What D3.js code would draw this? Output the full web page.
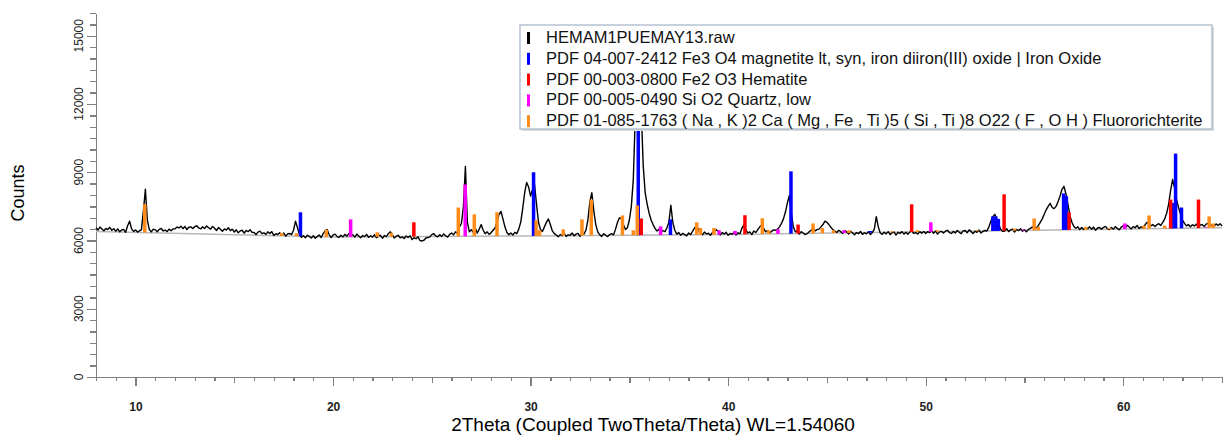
<!DOCTYPE html>
<html>
<head>
<meta charset="utf-8">
<title>XRD pattern</title>
<script src="https://cdn.jsdelivr.net/npm/d3@7"></script>
<style>
  body{margin:0;background:#fff;}
  svg{display:block;font-family:"Liberation Sans",Arial,sans-serif;}
  .axis path,.axis line{stroke:#808080;stroke-width:1.3;fill:none;shape-rendering:crispEdges;}
  .axis text{font-size:12px;fill:#222;}
</style>
</head>
<body>
<script>
// measured scan: start angle, step (2Theta, degrees) and counts
var scanStart = 8.0;
var scanStep = 0.1;
var scanCounts = [
  6560,6460,6590,6510,6430,6530,6480,6580,6450,6520, // 8
  6410,6510,6380,6460,6490,6360,6650,6850,6510,6400, // 9
  6460,6370,6420,6480,7300,8250,6900,6480,6380,6500, // 10
  6470,6380,6490,6530,6420,6460,6390,6500,6430,6510, // 11
  6510,6590,6550,6630,6520,6620,6480,6580,6600,6530, // 12
  6610,6650,6550,6510,6600,6530,6640,6560,6500,6620, // 13
  6540,6440,6570,6490,6410,6510,6460,6560,6430,6500, // 14
  6370,6470,6340,6420,6450,6320,6440,6390,6470,6360, // 15
  6350,6260,6370,6410,6300,6340,6270,6380,6310,6390, // 16
  6220,6300,6260,6340,6230,6330,6190,6290,6310,6260, // 17
  6450,6850,6560,6250,6140,6210,6120,6230,6180,6110, // 18
  6210,6100,6180,6240,6130,6300,6420,6480,6260,6130, // 19
  6240,6280,6180,6140,6230,6160,6270,6190,6300,6250, // 20
  6250,6150,6280,6200,6120,6220,6170,6270,6140,6210, // 21
  6150,6250,6120,6200,6230,6100,6220,6170,6300,6380, // 22
  6260,6110,6190,6230,6120,6160,6090,6200,6130,6210, // 23
  6040,6120,6080,6160,6000,5980,6010,6110,6130,6160, // 24
  6260,6300,6200,6160,6250,6180,6290,6210,6150,6270, // 25
  6330,6250,6380,6320,6600,6750,7500,9250,6800,6380, // 26
  6470,6360,6550,6320,6500,6700,6450,6300,6380,6270, // 27
  6340,6450,6550,6800,7150,7280,6950,6600,6350,6250, // 28
  6330,6240,6360,6300,6500,6800,7400,8100,8550,8350, // 29
  7950,8250,8450,7600,6800,6480,6400,6600,6800,6950, // 30
  6700,6420,6300,6240,6160,6260,6210,6310,6180,6250, // 31
  6230,6330,6200,6280,6310,6180,6300,6280,6450,6900, // 32
  7700,8100,7300,6700,6380,6250,6180,6300,6230,6170, // 33
  6260,6300,6250,6500,6800,7000,6950,6700,6480,6560, // 34
  6900,7500,8700,11500,14200,14800,11800,9300,8100,7600, // 35
  7200,6900,6700,6530,6420,6490,6360,6440,6390,6550, // 36
  6800,7550,6800,6450,6280,6350,6230,6310,6260,6200, // 37
  6330,6260,6400,6550,6650,6480,6330,6250,6370,6290, // 38
  6320,6230,6340,6420,6470,6400,6240,6350,6280,6360, // 39
  6230,6310,6270,6350,6240,6340,6300,6550,6680,6460, // 40
  6330,6380,6260,6420,6350,6480,6600,6680,6530,6380, // 41
  6430,6330,6400,6470,6450,6500,6600,6750,6950,7250, // 42
  7650,7980,7200,6600,6380,6420,6280,6390,6330,6260, // 43
  6300,6380,6450,6550,6420,6480,6500,6600,6700,6850, // 44
  6800,6700,6580,6480,6420,6350,6450,6390,6310,6430, // 45
  6380,6280,6410,6330,6250,6350,6300,6400,6270,6340, // 46
  6290,6390,6260,6350,6500,7050,6600,6330,6270,6360, // 47
  6290,6390,6260,6340,6370,6240,6360,6310,6390,6280, // 48
  6360,6270,6380,6420,6310,6350,6280,6390,6320,6400, // 49
  6310,6390,6350,6430,6320,6420,6280,6380,6400,6330, // 50
  6410,6450,6350,6310,6400,6330,6440,6360,6300,6420, // 51
  6440,6340,6470,6390,6310,6410,6360,6460,6330,6400, // 52
  6440,6420,6600,6850,7050,7150,6950,6700,6480,6400, // 53
  6420,6520,6390,6470,6500,6370,6490,6440,6520,6410, // 54
  6470,6380,6490,6530,6600,6520,6560,6650,6800,6950, // 55
  7150,7350,7500,7630,7450,7400,7500,7700,7950,8250, // 56
  8380,8050,7600,7100,6800,6620,6540,6600,6480,6570, // 57
  6480,6560,6520,6600,6490,6590,6450,6550,6570,6500, // 58
  6580,6620,6520,6480,6570,6500,6610,6530,6470,6590, // 59
  6640,6540,6670,6590,6510,6610,6560,6660,6530,6600, // 60
  6560,6680,6800,6750,6640,6700,6610,6690,6740,6660, // 61
  6800,6950,7200,7600,8200,8680,8300,7800,7450,7150, // 62
  6900,6750,6640,6700,6600,6690,6640,6720,6610,6680, // 63
  6700,6610,6720,6760,6650,6690,6620,6730,6660,6740, // 64
  6640
];

// fitted background line
var bgTheta  = [8, 20, 30, 40, 50, 65];
var bgCounts = [6400, 6150, 6200, 6260, 6380, 6560];

// reference patterns (stick positions and heights)
var magTheta = [18.35, 30.15, 35.45, 37.08, 43.18, 47.2, 53.4, 53.55, 53.68, 56.98, 57.12, 62.48, 62.65, 62.95];
var magTop   = [7240, 9000, 15000, 6930, 9040, 6420, 7060, 7060, 6950, 8070, 7950, 7650, 9820, 7450];
var hemTheta = [24.09, 35.6, 40.85, 43.54, 49.29, 53.97, 57.26, 62.4, 63.81];
var hemTop   = [6800, 6970, 7110, 6700, 7590, 8030, 7240, 7800, 7800];
var qtzTheta = [20.89, 26.69, 36.58, 39.54, 40.35, 42.52, 45.87, 50.26, 54.96, 60.08, 64.2];
var qtzTop   = [6930, 8460, 6620, 6450, 6420, 6500, 6450, 6800, 6480, 6750, 6580];
var frtTheta = [10.47, 17.4, 18.15, 19.66, 22.24, 22.95, 26.34, 27.15, 28.3, 30.28, 30.45, 31.65, 32.6, 33.07, 34.65, 35.2, 35.4, 38.41, 38.6, 39.28,
                41.73, 42.05, 44.3, 44.77, 45.34, 46.12, 48.3, 49.58, 50.6, 52.6, 54.5, 55.49, 55.7, 58.1, 59.3, 61.05, 61.31, 62.1, 64.35, 64.55];
var frtTop   = [7590, 6330, 6320, 6470, 6360, 6340, 7450, 7150, 7240, 6890, 6450, 6490, 6930, 7800, 7100, 6450, 7540, 6800, 6550, 6550,
                6980, 6450, 6750, 6550, 6450, 6450, 6400, 6450, 6450, 6450, 6520, 6970, 6600, 6600, 6550, 6650, 7100, 6650, 7060, 6750];

var legendNames = [
  "HEMAM1PUEMAY13.raw",
  "PDF 04-007-2412 Fe3 O4 magnetite lt, syn, iron diiron(III) oxide | Iron Oxide",
  "PDF 00-003-0800 Fe2 O3 Hematite",
  "PDF 00-005-0490 Si O2 Quartz, low",
  "PDF 01-085-1763 ( Na , K )2 Ca ( Mg , Fe , Ti )5 ( Si , Ti )8 O22 ( F , O H ) Fluororichterite"
];
var yTickLabels = [0, 3000, 6000, 9000, 12000, 15000];
var xTickLabels = [10, 20, 30, 40, 50, 60];

var colors = ["#000000", "#0000ff", "#ff0000", "#ff00ff", "#ff8c1a"];

var width = 1223, height = 437;
var svg = d3.select("body").append("svg")
  .attr("width", width)
  .attr("height", height);

var x = d3.scaleLinear().domain([8, 65]).range([96, 1222]);
var y = d3.scaleLinear().domain([0, 16000]).range([377, 13]);
var bg = d3.scaleLinear().domain(bgTheta).range(bgCounts);

// y axis
var yAxis = d3.axisLeft(y)
  .tickValues(d3.range(0, 16001, 500))
  .tickSizeOuter(0)
  .tickFormat("");
var gy = svg.append("g").attr("class", "axis")
  .attr("transform", "translate(96,0)")
  .call(yAxis);
gy.selectAll(".tick line").attr("x2", function(d){ return d % 3000 === 0 ? -9 : -6; });
gy.selectAll(".ylab").data(yTickLabels).enter().append("text")
  .attr("class", "ylab")
  .attr("transform", function(d){ return "translate(-13," + y(d) + ") rotate(-90)"; })
  .attr("text-anchor", "middle")
  .text(function(d){ return d; });

// x axis
var xAxis = d3.axisBottom(x)
  .tickValues(d3.range(8, 66, 1))
  .tickSizeOuter(0)
  .tickFormat(function(d){ return xTickLabels.indexOf(d) >= 0 ? d : ""; });
var gx = svg.append("g").attr("class", "axis")
  .attr("transform", "translate(0," + y(0) + ")")
  .call(xAxis);
gx.selectAll(".tick line").attr("y2", function(d){ return d % 10 === 0 ? 9 : (d % 5 === 0 ? 6 : 4); });
gx.selectAll(".tick text").attr("y", 25).style("font-weight", "bold");

svg.append("text")
  .attr("transform", "translate(24,193) rotate(-90)")
  .attr("text-anchor", "middle")
  .style("font-size", "18px")
  .text("Counts");
svg.append("text")
  .attr("x", 653).attr("y", 431)
  .attr("text-anchor", "middle")
  .style("font-size", "19px")
  .text("2Theta (Coupled TwoTheta/Theta) WL=1.54060");

// background line
var bgLine = d3.line().x(function(d){ return x(d); }).y(function(d){ return y(bg(d)); });
svg.append("path")
  .datum(bgTheta)
  .attr("d", bgLine)
  .attr("fill", "none")
  .attr("stroke", "#b8b8b8")
  .attr("stroke-width", 1.5);

// scan
var scanLine = d3.line()
  .x(function(d, i){ return x(scanStart + i * scanStep); })
  .y(function(d){ return y(d); });
svg.append("path")
  .datum(scanCounts)
  .attr("d", scanLine)
  .attr("fill", "none")
  .attr("stroke", "#000")
  .attr("stroke-width", 1.4)
  .attr("stroke-linejoin", "round");

// sticks
var phases = [[magTheta, magTop], [hemTheta, hemTop], [qtzTheta, qtzTop], [frtTheta, frtTop]];
phases.forEach(function(p, k){
  var sticks = p[0].map(function(t, i){ return {t: t, top: p[1][i]}; });
  svg.append("g").selectAll("line").data(sticks).enter().append("line")
    .attr("x1", function(d){ return x(d.t); })
    .attr("x2", function(d){ return x(d.t); })
    .attr("y1", function(d){ return y(bg(d.t)); })
    .attr("y2", function(d){ return y(d.top); })
    .attr("stroke", colors[k + 1])
    .attr("stroke-width", 3.5);
});

// legend
var lg = svg.append("g").attr("transform", "translate(520,25)");
lg.append("rect").attr("x", 2).attr("y", 2).attr("width", 692).attr("height", 104).attr("fill", "#dcdcdc");
lg.append("rect").attr("width", 692).attr("height", 104)
  .attr("fill", "#fff").attr("stroke", "#a3b3c9").attr("stroke-width", 1.2);
var rows = lg.selectAll(".row").data(legendNames).enter().append("g")
  .attr("transform", function(d, i){ return "translate(0," + (12 + i * 20.8) + ")"; });
rows.append("rect").attr("x", 7).attr("y", -5).attr("width", 3).attr("height", 12)
  .attr("fill", function(d, i){ return colors[i]; });
rows.append("text").attr("x", 26).attr("y", 6)
  .style("font-size", "16.5px").attr("fill", "#111")
  .text(function(d){ return d; });
</script>
</body>
</html>
